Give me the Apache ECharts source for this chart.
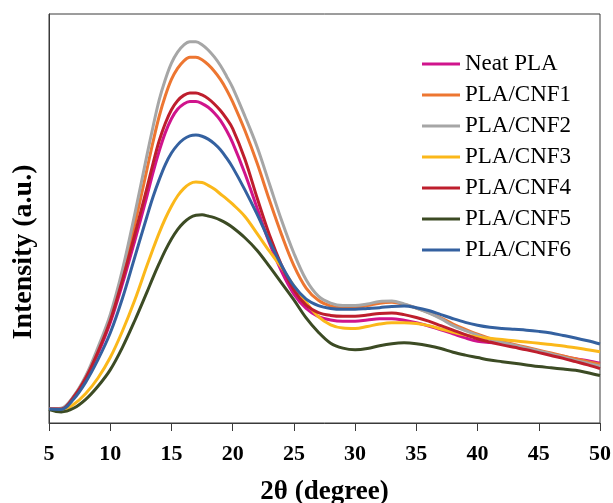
<!DOCTYPE html>
<html>
<head>
<meta charset="utf-8">
<script src="https://cdn.jsdelivr.net/npm/echarts@6/dist/echarts.min.js"></script>
<style>
  html, body { margin: 0; padding: 0; background: #fff; }
  #chart { width: 613px; height: 503px; }
</style>
</head>
<body>
<div id="chart"></div>
<script>
// 2θ positions (degree) shared by all patterns; half steps across the main halo
const twoTheta = [5, 6, 7, 8, 9, 10, 11, 12,
  13, 13.5, 14, 14.5, 15, 15.5, 16, 16.5, 17, 17.5, 18, 18.5, 19, 19.5, 20,
  21, 22, 23, 24, 25, 26, 27, 28, 29, 30, 31, 32, 33, 34, 35, 36, 37, 38, 39, 40,
  41, 42, 43, 44, 45, 46, 47, 48, 49, 50];

// XRD intensities (a.u.)
const neatPLA = [3.4, 3.4, 6.2, 10.8, 17, 24.5, 34, 44.5,
  55.5, 61.3, 66.5, 71, 74.4, 76.7, 78, 78.6, 78.6, 78.1, 77.2, 75.8, 74, 71.5, 68.5,
  61, 52.5, 44, 37, 31.5, 28, 26, 25.2, 24.9, 24.9, 25.2, 25.5, 25.5, 25.1, 24.5, 23.7, 22.8, 21.8, 20.8, 20.0,
  19.7, 19.5, 19.0, 18.3, 17.6, 16.9, 16.3, 15.7, 15.2, 14.6];
const plaCNF1 = [3.4, 3.5, 6.4, 11.2, 17.8, 25.5, 36, 48.5,
  62, 68.8, 75, 80, 84, 86.7, 88.5, 89.4, 89.4, 88.8, 87.6, 86, 84, 81.5, 78.5,
  71.5, 63.5, 54.5, 46, 38.5, 33, 30, 28.6, 28.1, 28.2, 28.7, 29.3, 29.5, 29, 28.1, 27, 25.7, 24.2, 22.9, 21.7,
  20.7, 19.9, 19.2, 18.5, 17.8, 17.1, 16.4, 15.7, 15.0, 14.4];
const plaCNF2 = [3.4, 3.6, 6.5, 11.5, 18.5, 26.5, 37.5, 51,
  65.5, 72.5, 79, 84, 88, 90.7, 92.4, 93.2, 93.2, 92.5, 91.2, 89.5, 87.4, 84.8, 82,
  75, 67.5, 58.5, 49.5, 41.5, 35, 31, 29.3, 28.7, 28.7, 29.1, 29.7, 29.8, 29.1, 28.1, 26.9, 25.5, 23.8, 22.6, 21.5,
  20.5, 19.7, 19.0, 18.3, 17.6, 16.9, 16.1, 15.3, 14.6, 13.9];
const plaCNF3 = [3.4, 3.0, 4.5, 7.2, 11, 16, 22.5, 30,
  38.5, 42.6, 46.5, 50, 53, 55.5, 57.3, 58.5, 58.9, 58.8, 58.1, 57.2, 56, 54.8, 53.5,
  50.5, 46.3, 42, 38, 33.5, 29.5, 26, 24, 23.2, 23.1, 23.6, 24.2, 24.5, 24.5, 24.3, 23.8, 23.0, 22.2, 21.5, 21.0,
  20.7, 20.4, 20.1, 19.8, 19.5, 19.2, 18.8, 18.4, 17.9, 17.4];
const plaCNF4 = [3.4, 3.4, 6.3, 11, 17.4, 25, 35, 46,
  57.5, 63.5, 69, 73.3, 76.6, 78.8, 80.1, 80.7, 80.7, 80.2, 79.3, 78, 76.4, 74.4, 72,
  64.5, 55, 46, 38.5, 32.5, 28.8, 27, 26.3, 26.1, 26.1, 26.4, 26.8, 26.9, 26.5, 25.8, 24.9, 23.8, 22.7, 21.6, 20.6,
  19.8, 19.1, 18.5, 17.9, 17.2, 16.5, 15.8, 15.0, 14.2, 13.3];
const plaCNF5 = [3.3, 2.7, 3.6, 5.8, 9, 13, 18.5, 25,
  32, 35.6, 39, 42.2, 45, 47.3, 49, 50.2, 50.8, 50.9, 50.6, 50.2, 49.6, 48.8, 47.8,
  45.3, 42.2, 38.3, 34.2, 30.1, 25.7, 22.2, 19.5, 18.3, 17.9, 18.2, 18.9, 19.4, 19.6, 19.4, 18.9, 18.2, 17.3, 16.6, 16.0,
  15.4, 15.0, 14.6, 14.2, 13.8, 13.5, 13.2, 12.9, 12.3, 11.6];
const plaCNF6 = [3.4, 3.3, 5.8, 10, 15.5, 22, 30.5, 40.5,
  50.5, 55.3, 59.5, 63.2, 66, 68, 69.4, 70.2, 70.4, 70.1, 69.4, 68.3, 66.8, 64.8, 62.5,
  57, 51, 44.5, 38.5, 33.5, 30.3, 28.7, 28, 27.8, 27.8, 28, 28.2, 28.5, 28.6, 28.2, 27.5, 26.5, 25.5, 24.6, 23.9,
  23.4, 23.1, 22.9, 22.7, 22.4, 22, 21.4, 20.8, 20.1, 19.3];

const seriesNames = ['Neat PLA', 'PLA/CNF1', 'PLA/CNF2', 'PLA/CNF3', 'PLA/CNF4', 'PLA/CNF5', 'PLA/CNF6'];
const seriesValues = [neatPLA, plaCNF1, plaCNF2, plaCNF3, plaCNF4, plaCNF5, plaCNF6];
const seriesColors = ['#d0148c', '#ed7631', '#a6a6a6', '#fbb81a', '#be1e2d', '#3c4b24', '#3461a0'];

const xTicks = [5, 10, 15, 20, 25, 30, 35, 40, 45, 50];

const serif = '"Liberation Serif", "Times New Roman", serif';
const axisColor = '#3a3a3a';

const chart = echarts.init(document.getElementById('chart'), null, { renderer: 'canvas' });

const option = {
  backgroundColor: '#ffffff',
  animation: false,
  grid: {
    left: 49, right: 13, top: 14, bottom: 80,
    containLabel: false,
    outerBoundsMode: 'none',
    show: true, borderColor: axisColor, borderWidth: 1, backgroundColor: 'transparent'
  },
  legend: {
    orient: 'vertical',
    left: 417,
    top: 46,
    icon: 'rect',
    itemWidth: 38,
    itemHeight: 3,
    itemGap: 5,
    data: seriesNames,
    textStyle: { fontFamily: serif, fontSize: 23, color: '#000', lineHeight: 26 }
  },
  xAxis: {
    type: 'value',
    min: xTicks[0],
    max: xTicks[xTicks.length - 1],
    interval: 5,
    name: '2θ (degree)',
    nameLocation: 'middle',
    nameGap: 56,
    nameTextStyle: { fontFamily: serif, fontSize: 27, fontWeight: 'bold', color: '#000' },
    axisLine: { show: true, onZero: false, lineStyle: { color: axisColor, width: 1 } },
    axisTick: { show: true, inside: false, length: 8, lineStyle: { color: axisColor } },
    axisLabel: { fontFamily: serif, fontSize: 22, fontWeight: 'bold', color: '#000', margin: 20 },
    splitLine: { show: false }
  },
  yAxis: {
    type: 'value',
    min: 0,
    max: 100,
    axisLine: { show: true, lineStyle: { color: axisColor, width: 1 } },
    axisTick: { show: false },
    axisLabel: { show: false },
    splitLine: { show: false }
  },
  graphic: [{
    type: 'text',
    x: 24,
    y: 252,
    rotation: Math.PI / 2,
    style: {
      text: 'Intensity (a.u.)',
      fontFamily: serif,
      fontSize: 28,
      fontWeight: 'bold',
      fill: '#000',
      align: 'center',
      verticalAlign: 'middle'
    }
  }],
  series: seriesNames.map((name, i) => ({
    name: name,
    type: 'line',
    data: twoTheta.map((x, j) => [x, seriesValues[i][j]]),
    smooth: 0.35,
    symbol: 'none',
    showSymbol: false,
    lineStyle: { color: seriesColors[i], width: 3 },
    itemStyle: { color: seriesColors[i] },
    z: 2 + i
  }))
};

chart.setOption(option);
</script>
</body>
</html>
